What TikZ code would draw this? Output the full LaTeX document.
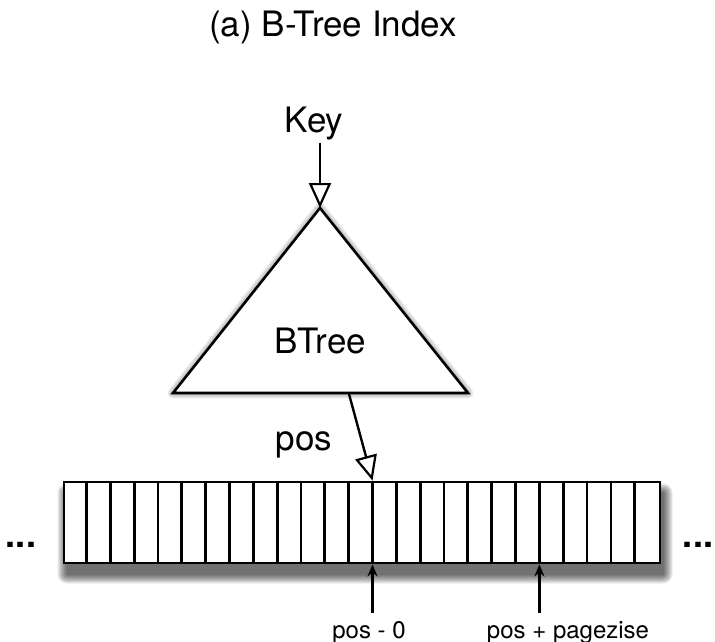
\documentclass[tikz,border=0pt]{standalone}
\usepackage{fontspec}
\setmainfont{TeX Gyre Heros}
\usetikzlibrary{arrows.meta}
\begin{document}
\begin{tikzpicture}[x=1pt,y=-1pt,
  big/.style={font=\fontsize{35}{40}\selectfont, inner sep=0pt, anchor=base},
  small/.style={font=\fontsize{24}{28}\selectfont, inner sep=0pt, anchor=base},
  dots/.style={font=\fontsize{36}{40}\selectfont\bfseries, inner sep=0pt, anchor=base},
  hollow/.style={line width=2.4pt, -{Triangle[open,length=25pt,width=22pt,line width=2.2pt]}},
  uparrow/.style={line width=2.4pt, -{Stealth[length=12pt,width=10pt]}},
  shadowlayer/.style={black, line join=round, fill=black},
  cell/.style={line width=2.8pt}]
\useasboundingbox (0,0) rectangle (715,642);

% title
\node[big] (title) at (333,37) {(a) B-Tree Index};

% B-tree triangle
\coordinate (apex) at (320,208);
\coordinate (bl) at (173,393);
\coordinate (br) at (468,393);
\foreach \r in {1,3,...,11} {
  \begin{scope}[transparency group, opacity=0.06, shift={(3,9)}]
    \filldraw[shadowlayer, line width=\r pt] (apex) -- (br) -- (bl) -- cycle;
  \end{scope}
}
\filldraw[fill=white, line width=2.6pt, line join=miter] (apex) -- (br) -- (bl) -- cycle;
\node[big] (btree) at (320,353) {BTree};

% key
\node[big] (key) at (314,132) {Key};
\draw[hollow] ([yshift=-3pt]key.south -| apex) -- (apex);

% strip shadow
\foreach \r in {1,3,...,19} {
  \begin{scope}[transparency group, opacity=0.08, shift={(3,11)}]
    \filldraw[shadowlayer, line width=\r pt] (64,482) rectangle (660,563);
  \end{scope}
}
% strip of pages
\node[draw, fill=white, line width=2.8pt, minimum width=596pt, minimum height=81pt, inner sep=0pt] (strip) at (362,522.5) {};
\foreach \i in {1,...,24} {
  \draw[cell] ([xshift=\i*23.84pt]strip.north west) -- ([xshift=\i*23.84pt]strip.south west);
}
\coordinate (p0) at ([xshift=13*23.84pt]strip.north west);
\coordinate (p0b) at ([xshift=13*23.84pt]strip.south west);
\coordinate (p1b) at ([xshift=20*23.84pt]strip.south west);

% pos arrow
\coordinate (posstart) at (349,394);
\draw[hollow] (posstart) -- (p0);
\node[big] (pos) at (304,450) {pos};

% dots
\node[dots] (ldots) at (21,547) {...};
\node[dots] (rdots) at (698,547) {...};

% bottom labels
\node[small] (l0) at (369,638) {pos - 0};
\node[small] (l1) at (568,638) {pos + pagezise};
\draw[uparrow] ([yshift=8pt]l0.north -| p0b) -- (p0b);
\draw[uparrow] ([yshift=8pt]l1.north -| p1b) -- (p1b);
\end{tikzpicture}
\end{document}
